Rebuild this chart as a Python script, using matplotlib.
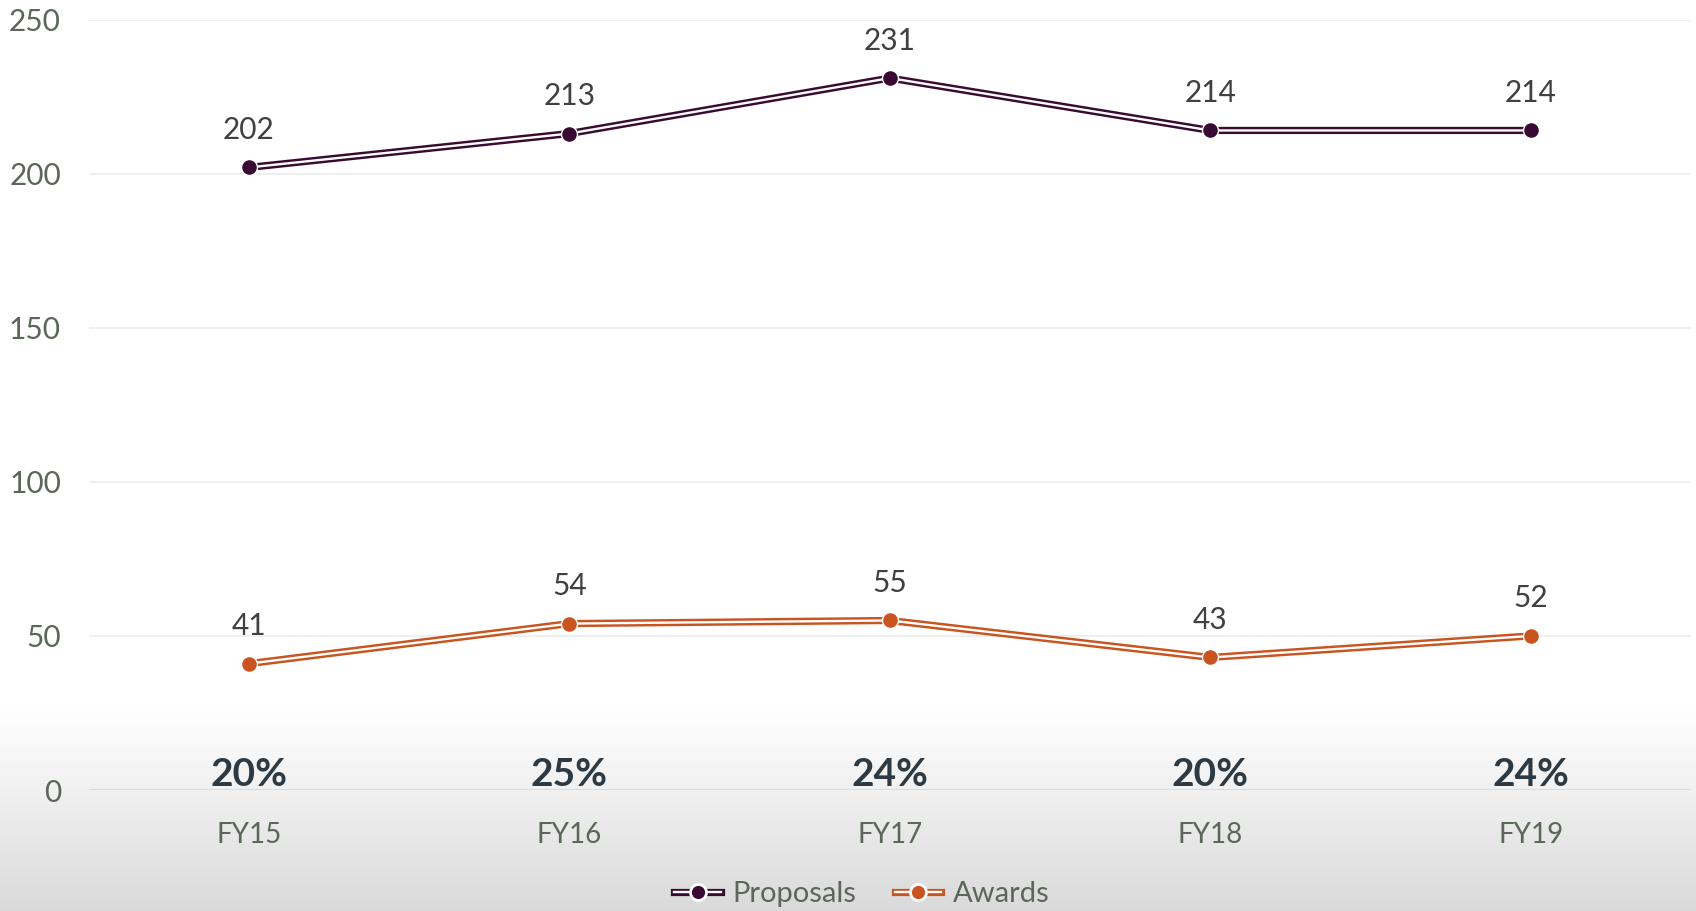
import numpy as np
import matplotlib
matplotlib.use("Agg")
import matplotlib.pyplot as plt
from matplotlib.lines import Line2D
from matplotlib.transforms import blended_transform_factory

plt.rcParams['font.family'] = ['Lato', 'DejaVu Sans']

categories = ["FY15", "FY16", "FY17", "FY18", "FY19"]
proposals = [202, 213, 231, 214, 214]
proposal_labels = ["202", "213", "231", "214", "214"]
awards = [41, 54, 55, 43, 50]
award_labels = ["41", "54", "55", "43", "52"]
rates = ["20%", "25%", "24%", "20%", "24%"]
yticks = [0, 50, 100, 150, 200, 250]

W, H = 1696, 911
fig = plt.figure(figsize=(W / 100, H / 100), dpi=100)

# background gradient
bg = fig.add_axes([0, 0, 1, 1], zorder=-10)
rows = np.arange(H)
vals = np.interp(rows, [0, 700, 790, 911], [1.0, 1.0, 0.94, 0.85])
img = np.repeat(vals[:, None], 2, axis=1)
bg.imshow(img, cmap='gray', vmin=0, vmax=1, aspect='auto', extent=[0, 1, 0, 1], origin='upper')
bg.axis('off')

ax = fig.add_axes([88.7 / W, 1 - 790 / H, (1691 - 88.7) / W, (790 - 19.5) / H])
ax.patch.set_alpha(0)
ax.set_xlim(-0.5, 4.5)
ax.set_ylim(0, 250)
for s in ax.spines.values():
    s.set_visible(False)
ax.set_yticks(yticks)
ax.set_yticklabels([str(v) for v in yticks])
ax.tick_params(axis='y', length=0, pad=20, labelsize=21.5, labelcolor='#5b6759')
ax.set_xticks(range(len(categories)))
ax.set_xticklabels(categories)
ax.tick_params(axis='x', length=0, pad=23, labelsize=20, labelcolor='#5b6759')
for v in yticks:
    ax.axhline(v, color='#d9d9d9' if v == 0 else '#ececec', lw=1.2, zorder=0)

x = np.arange(len(categories))
series = [
    (proposals, proposal_labels, '#3a0b32', 'Proposals'),
    (awards, award_labels, '#c9541f', 'Awards'),
]
OUT_LW, IN_LW, MS = 5.2, 1.7, 11.5
handles = []
for vals_, labs, col, name in series:
    ax.plot(x, vals_, color=col, lw=OUT_LW, solid_capstyle='butt', zorder=3)
    ax.plot(x, vals_, color='white', lw=IN_LW, solid_capstyle='butt', zorder=4)
    ax.plot(x, vals_, ls='none', marker='o', ms=MS, mfc=col, mec='white', mew=1.0, zorder=5)
    for xi, v, lab in zip(x, vals_, labs):
        ax.annotate(lab, (xi, v), xytext=(0, 27), textcoords='offset points',
                    ha='center', va='center', fontsize=21.5, color='#404040')
    h = (Line2D([], [], color=col, lw=OUT_LW),
         Line2D([], [], color='white', lw=IN_LW),
         Line2D([], [], ls='none', marker='o', ms=MS, mfc=col, mec='white', mew=2.0))
    handles.append((h, name))

tr = blended_transform_factory(ax.transData, ax.transAxes)
for xi, r in zip(x, rates):
    ax.text(xi, 15 / 770.5, r, transform=tr, ha='center', va='center',
            fontsize=28, fontweight='bold', color='#2d3a43')

leg = fig.legend([h for h, n in handles], [n for h, n in handles],
                 loc='center', bbox_to_anchor=(862 / W, 1 - 894 / H), ncol=2,
                 frameon=False, fontsize=21, handlelength=1.6, columnspacing=1.3,
                 handletextpad=0.4)
for t in leg.get_texts():
    t.set_color('#5b6759')

fig.savefig('out.png', dpi=100)
